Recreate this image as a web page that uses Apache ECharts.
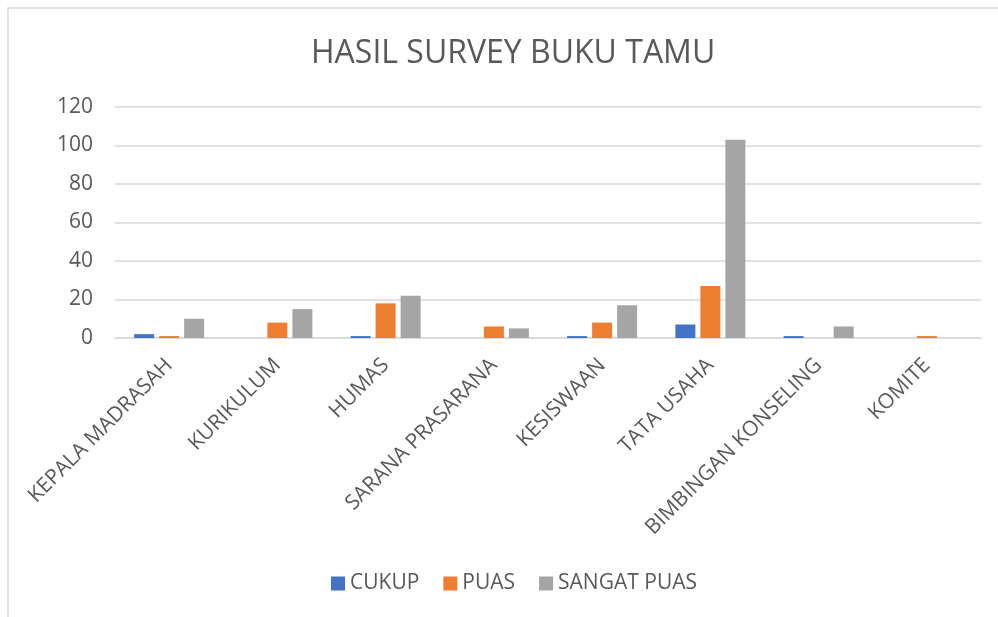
<!DOCTYPE html>
<html>
<head>
<meta charset="utf-8">
<script src="https://cdn.jsdelivr.net/npm/echarts@6/dist/echarts.min.js"></script>
<style>
	html, body { margin: 0; padding: 0; background: #fff; }
	#chart { width: 998px; height: 617px; }
</style>
</head>
<body>
<div id="chart"></div>
<script>
// data
var categories = ['KEPALA MADRASAH', 'KURIKULUM', 'HUMAS', 'SARANA PRASARANA', 'KESISWAAN', 'TATA USAHA', 'BIMBINGAN KONSELING', 'KOMITE'];
var seriesNames = ['CUKUP', 'PUAS', 'SANGAT PUAS'];
var cukup = [2, 0, 1, 0, 1, 7, 1, 0];
var puas = [1, 8, 18, 6, 8, 27, 0, 1];
var sangatPuas = [10, 15, 22, 5, 17, 103, 6, 0];
var yTicks = [0, 20, 40, 60, 80, 100, 120];

var colors = ['#4472C4', '#ED7D31', '#A5A5A5'];
var textColor = '#595959';
var fontName = 'Open Sans';

var myChart = echarts.init(document.getElementById('chart'));

function bar(name, data, i) {
	return {
		name: name,
		type: 'bar',
		data: data,
		barWidth: 20,
		barGap: '25%',
		itemStyle: { color: colors[i] }
	};
}

var option = {
	animation: false,
	textStyle: { fontFamily: fontName, color: textColor },
	// outer chart frame
	graphic: [{
		type: 'rect',
		shape: { x: 8, y: 8, width: 1000, height: 700 },
		style: { fill: 'none', stroke: '#d9d9d9', lineWidth: 1.5 },
		silent: true
	}],
	title: {
		text: 'HASIL SURVEY BUKU TAMU',
		left: 306,
		top: 33,
		textStyle: { fontFamily: fontName, fontSize: 32, fontWeight: 'normal', color: textColor }
	},
	legend: {
		data: seriesNames,
		bottom: 18,
		left: 326,
		itemWidth: 14,
		itemHeight: 14,
		itemGap: 24,
		icon: 'rect',
		textStyle: { fontFamily: fontName, fontSize: 21, color: textColor }
	},
	grid: { left: 115, right: 17, top: 107, bottom: 279 },
	xAxis: {
		type: 'category',
		data: categories,
		axisLine: { lineStyle: { color: '#d9d9d9', width: 1.5 } },
		axisTick: { show: false },
		axisLabel: {
			rotate: 45,
			interval: 0,
			margin: 24,
			fontFamily: fontName,
			fontSize: 21,
			color: textColor
		}
	},
	yAxis: {
		type: 'value',
		min: yTicks[0],
		max: yTicks[yTicks.length - 1],
		interval: yTicks[1] - yTicks[0],
		axisLine: { show: false },
		axisTick: { show: false },
		splitLine: { lineStyle: { color: '#d9d9d9', width: 1.5 } },
		axisLabel: { margin: 22, fontFamily: fontName, fontSize: 21, color: textColor }
	},
	series: [
		bar(seriesNames[0], cukup, 0),
		bar(seriesNames[1], puas, 1),
		bar(seriesNames[2], sangatPuas, 2)
	]
};
myChart.setOption(option);
</script>
</body>
</html>
